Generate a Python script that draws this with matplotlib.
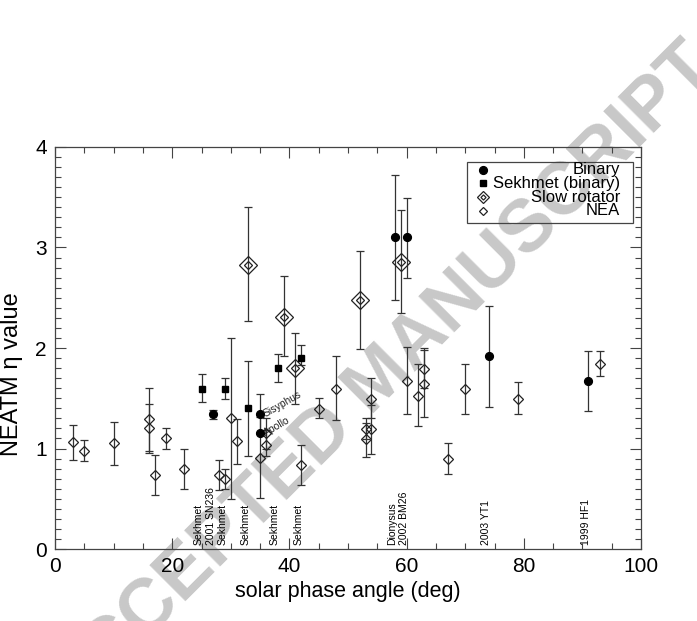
# NEATM eta vs solar phase angle
import numpy as np
import matplotlib.pyplot as plt
from matplotlib.patches import Rectangle
from matplotlib.ticker import MultipleLocator

plt.rcParams['font.family'] = ['Liberation Sans', 'DejaVu Sans']

# NEA: phase angle, eta, lower, upper
nea_x = [3, 5, 10, 16, 16, 17, 19, 22, 28, 29, 30, 31, 35, 36, 36, 42, 45, 48,
         53, 53, 54, 54, 60, 62, 63, 63, 67, 70, 79, 93]
nea_y = [1.06, 0.98, 1.05, 1.29, 1.20, 0.74, 1.10, 0.80, 0.74, 0.70, 1.30, 1.07, 0.91,
         1.15, 1.035, 0.835, 1.395, 1.595, 1.19, 1.09, 1.495, 1.19, 1.675, 1.525,
         1.795, 1.64, 0.90, 1.595, 1.495, 1.84]
nea_lo = [0.885, 0.88, 0.84, 0.98, 0.96, 0.54, 1.00, 0.60, 0.59, 0.60, 0.50, 0.85, 0.51,
          1.00, 0.925, 0.635, 1.30, 1.28, 1.09, 0.92, 1.30, 0.95, 1.34, 1.22,
          1.60, 1.31, 0.745, 1.345, 1.34, 1.72]
nea_hi = [1.23, 1.08, 1.26, 1.60, 1.44, 0.935, 1.20, 1.00, 0.885, 0.80, 2.10, 1.29, 1.31,
          1.30, 1.18, 1.035, 1.50, 1.92, 1.30, 1.25, 1.70, 1.43, 2.01, 1.84,
          2.00, 1.98, 1.05, 1.84, 1.66, 1.97]

# slow rotators
slow_x = [33, 39, 41, 52, 59]
slow_y = [2.83, 2.31, 1.80, 2.48, 2.86]
slow_lo = [2.27, 1.92, 1.44, 1.99, 2.35]
slow_hi = [3.40, 2.72, 2.15, 2.97, 3.37]

# binaries
bin_x = [27, 35, 35, 58, 60, 74, 91]
bin_y = [1.34, 1.34, 1.15, 3.10, 3.10, 1.92, 1.675]
bin_lo = [1.29, 1.14, 1.15, 2.475, 2.70, 1.415, 1.375]
bin_hi = [1.38, 1.54, 1.15, 3.72, 3.49, 2.415, 1.97]

# Sekhmet (binary)
sek_x = [25, 29, 33, 38, 42]
sek_y = [1.595, 1.595, 1.40, 1.80, 1.90]
sek_lo = [1.46, 1.49, 0.925, 1.66, 1.83]
sek_hi = [1.74, 1.70, 1.87, 1.94, 2.03]

# object names along the bottom
name_x = [25, 27, 29, 33, 38, 42, 58, 60, 74, 91]
names = ['Sekhmet', '2001 SN236', 'Sekhmet', 'Sekhmet', 'Sekhmet', 'Sekhmet',
         'Dionysus', '2002 BM26', '2003 YT1', '1999 HF1']

ecol = '#333333'

fig = plt.figure(figsize=(6.97, 6.21), dpi=100)
ax = fig.add_axes([0.0789, 0.1159, 0.8408, 0.6474])


def errs(y, lo, hi):
    y = np.array(y)
    return [y - np.array(lo), np.array(hi) - y]


def draw(x, y, lo, hi, **kw):
    ax.errorbar(x, y, yerr=errs(y, lo, hi), fmt='none', ecolor=ecol,
                elinewidth=0.9, capsize=3.2, capthick=0.9, zorder=2)
    ax.plot(x, y, linestyle='none', zorder=3, **kw)


draw(nea_x, nea_y, nea_lo, nea_hi, marker='D', ms=4.6, mfc='none', mec='#222222', mew=0.9)
draw(slow_x, slow_y, slow_lo, slow_hi, marker='D', ms=8.8, mfc='none', mec='#222222', mew=0.9)
ax.plot(slow_x, slow_y, linestyle='none', marker='D', ms=4.4, mfc='none',
        mec='#222222', mew=0.9, zorder=3)
draw(bin_x, bin_y, bin_lo, bin_hi, marker='o', ms=5.6, color='black')
draw(sek_x, sek_y, sek_lo, sek_hi, marker='s', ms=3.8, color='black')

for xn, nm in zip(name_x, names):
    ax.text(xn - 0.45, 0.04, nm, rotation=90, ha='center', va='bottom',
            fontsize=7.5, zorder=4)

ax.text(36.0, 1.31, 'Sisyphus', rotation=30, rotation_mode='anchor',
        ha='left', va='baseline', fontsize=7.5, color='#222222', zorder=4)
ax.text(36.0, 1.12, 'Apollo', rotation=30, rotation_mode='anchor',
        ha='left', va='baseline', fontsize=7.5, color='#222222', zorder=4)

ax.set_xlim(0, 100)
ax.set_ylim(0, 4)
ax.xaxis.set_major_locator(MultipleLocator(20))
ax.xaxis.set_minor_locator(MultipleLocator(5))
ax.yaxis.set_major_locator(MultipleLocator(1))
ax.yaxis.set_minor_locator(MultipleLocator(0.1))
ax.tick_params(which='both', direction='in', top=True, right=True,
               color='#444444', width=0.8)
ax.tick_params(which='major', length=8, labelsize=15, pad=6)
ax.tick_params(which='minor', length=4.3)
for s in ax.spines.values():
    s.set_color('#444444')
    s.set_linewidth(0.9)

ax.set_xlabel('solar phase angle (deg)', fontsize=15.5, labelpad=3)
ax.set_ylabel('NEATM η value', fontsize=17)
ax.yaxis.set_label_coords(-0.054, 0.435)

# legend drawn by hand so the labels are right-aligned
ax.add_patch(Rectangle((0.7036, 0.8117), 0.2822, 0.1517, transform=ax.transAxes,
                       fill=False, ec='#444444', lw=0.9, zorder=5))
leg_y = [0.9428, 0.9097, 0.8749, 0.8415]
leg_txt = ['Binary', 'Sekhmet (binary)', 'Slow rotator', 'NEA']
mx = 0.730
ax.plot(mx, leg_y[0], 'o', ms=5.6, color='black', transform=ax.transAxes, zorder=5)
ax.plot(mx, leg_y[1], 's', ms=4.2, color='black', transform=ax.transAxes, zorder=5)
ax.plot(mx, leg_y[2], 'D', ms=6.0, mfc='none', mec='#222222', mew=0.9,
        transform=ax.transAxes, zorder=5)
ax.plot(mx, leg_y[2], 'D', ms=2.6, mfc='none', mec='#222222', mew=0.9,
        transform=ax.transAxes, zorder=5)
ax.plot(mx, leg_y[3], 'D', ms=4.0, mfc='none', mec='#222222', mew=0.9,
        transform=ax.transAxes, zorder=5)
for yy, tt in zip(leg_y, leg_txt):
    ax.text(0.964, yy, tt, transform=ax.transAxes, ha='right', va='center',
            fontsize=12, zorder=5)

# watermark
ax.text(0.545, 0.39, 'ACCEPTED MANUSCRIPT', transform=fig.transFigure,
        rotation=45, ha='center', va='center', fontsize=53, fontweight='bold',
        color='#c8c8c8', clip_on=False, zorder=0.5)

fig.savefig('out.png', dpi=100)
